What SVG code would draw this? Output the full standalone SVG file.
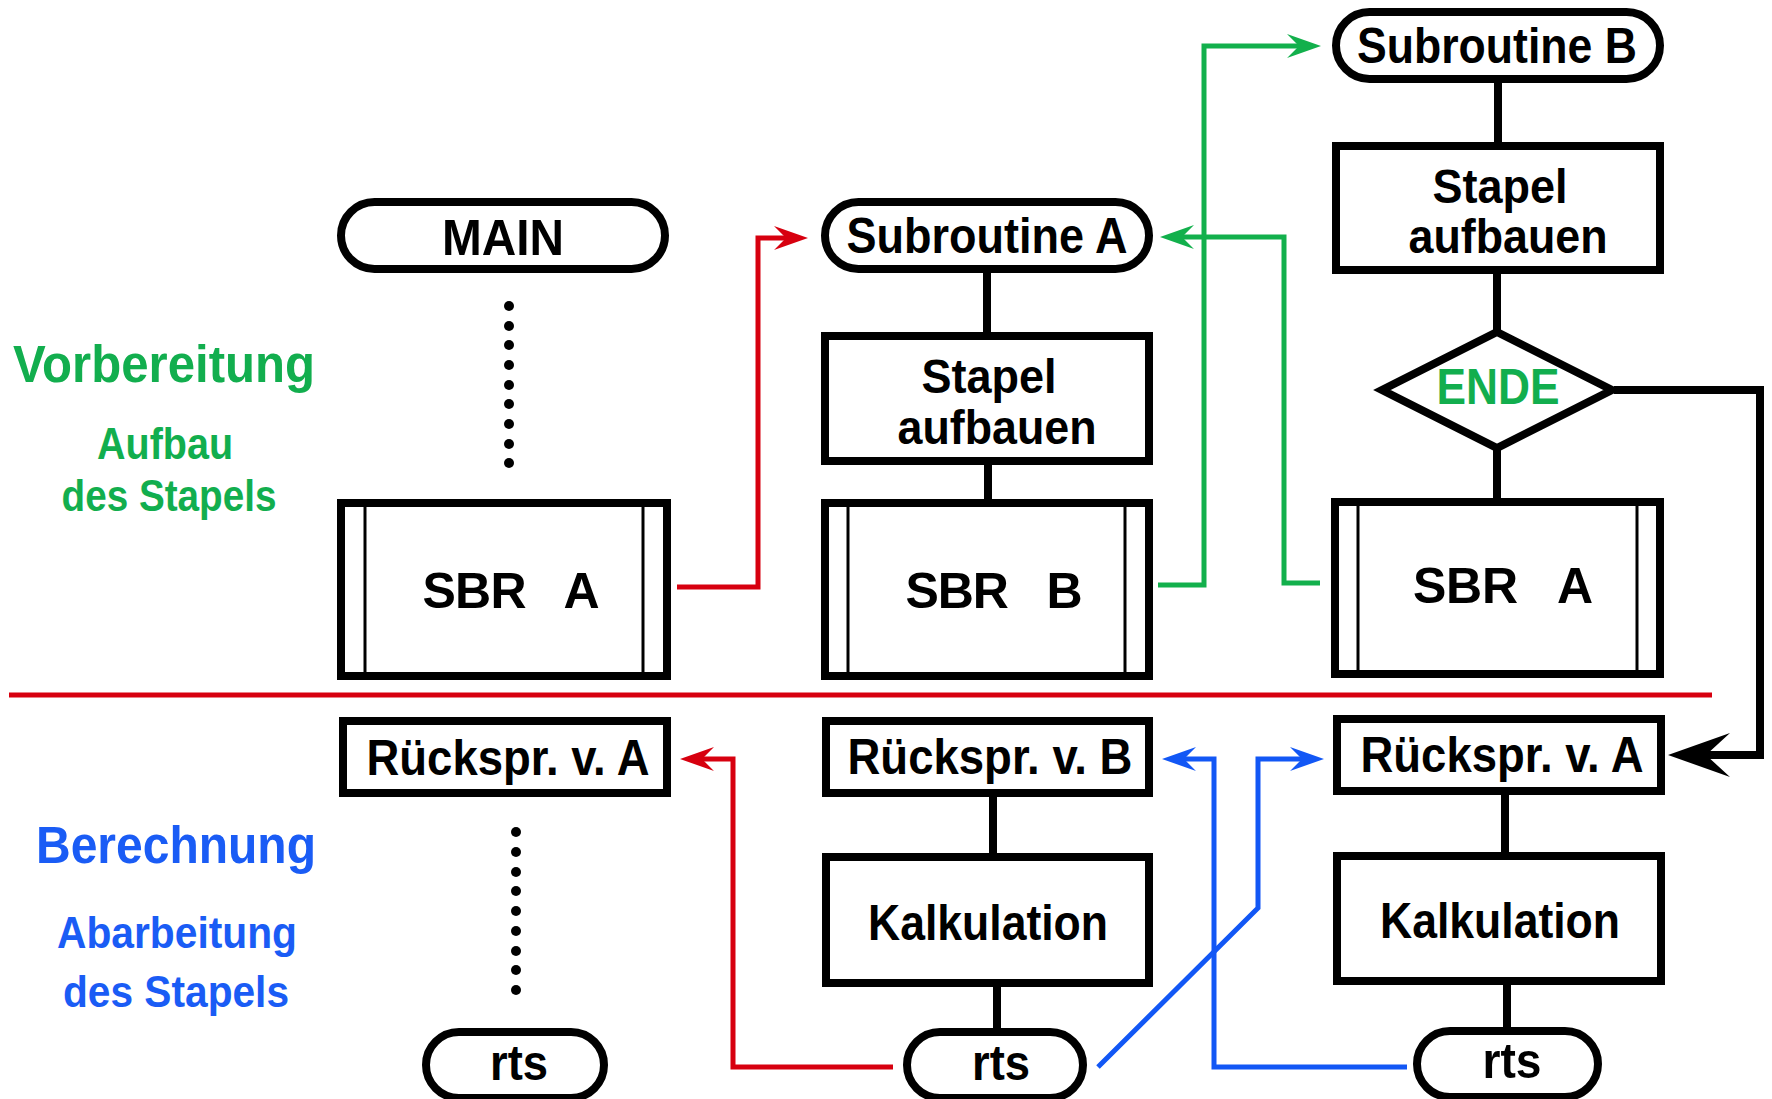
<svg xmlns="http://www.w3.org/2000/svg" width="1772" height="1099" viewBox="0 0 1772 1099">
  <style>
    .box { fill: #ffffff; stroke: #000000; stroke-width: 8; }
    .inner { stroke: #000000; stroke-width: 3; }
    .link { fill: none; stroke: #000000; stroke-width: 8; }
    .lbl { font-family: "Liberation Sans", Arial, sans-serif; font-weight: bold; font-size: 50px; fill: #000000; text-anchor: middle; }
    .two { font-size: 48px; }
    .side { font-family: "Liberation Sans", Arial, sans-serif; font-weight: bold; text-anchor: middle; }
    .green { fill: #12ae4e; }
    .blue { fill: #1a5cf5; }
    .red-line { fill: none; stroke: #d7000f; stroke-width: 5; }
    .green-line { fill: none; stroke: #12b04c; stroke-width: 5; }
    .blue-line { fill: none; stroke: #1257f5; stroke-width: 5; }
    .dot { fill: #000000; }
  </style>
  <defs>
    <marker id="arrow-red" viewBox="-36 -14 38 28" markerWidth="38" markerHeight="28" refX="-22" refY="0" orient="auto" markerUnits="userSpaceOnUse">
      <path d="M0,0 L-34,-12 L-22,0 L-34,12 Z" fill="#d7000f"/>
    </marker>
    <marker id="arrow-green" viewBox="-36 -14 38 28" markerWidth="38" markerHeight="28" refX="-22" refY="0" orient="auto" markerUnits="userSpaceOnUse">
      <path d="M0,0 L-34,-12 L-22,0 L-34,12 Z" fill="#12b04c"/>
    </marker>
    <marker id="arrow-blue" viewBox="-36 -14 38 28" markerWidth="38" markerHeight="28" refX="-22" refY="0" orient="auto" markerUnits="userSpaceOnUse">
      <path d="M0,0 L-34,-12 L-22,0 L-34,12 Z" fill="#1257f5"/>
    </marker>
  </defs>

  <rect width="1772" height="1099" fill="#ffffff"/>

  <!-- phase labels -->
  <g id="label-vorbereitung">
    <text class="side green" x="164" y="382" font-size="51" textLength="302" lengthAdjust="spacingAndGlyphs">Vorbereitung</text>
    <text class="side green" x="165" y="459" font-size="44" textLength="136" lengthAdjust="spacingAndGlyphs">Aufbau</text>
    <text class="side green" x="169" y="511" font-size="44" textLength="215" lengthAdjust="spacingAndGlyphs">des Stapels</text>
  </g>
  <g id="label-berechnung">
    <text class="side blue" x="176" y="863" font-size="51" textLength="280" lengthAdjust="spacingAndGlyphs">Berechnung</text>
    <text class="side blue" x="177" y="948" font-size="44" textLength="240" lengthAdjust="spacingAndGlyphs">Abarbeitung</text>
    <text class="side blue" x="176" y="1007" font-size="44" textLength="226" lengthAdjust="spacingAndGlyphs">des Stapels</text>
  </g>

  <!-- divider between the two phases -->
  <line x1="9" y1="695" x2="1712" y2="695" class="red-line"/>

  <!-- connectors -->
  <g id="connectors">
    <!-- flow lines inside each routine -->
    <line class="link" x1="987" y1="269" x2="987" y2="336"/>
    <line class="link" x1="988" y1="461" x2="988" y2="503"/>
    <line class="link" x1="1498" y1="79" x2="1498" y2="146"/>
    <line class="link" x1="1497" y1="270" x2="1497" y2="332"/>
    <line class="link" x1="1497" y1="448" x2="1497" y2="502"/>
    <line class="link" x1="993" y1="793" x2="993" y2="857"/>
    <line class="link" x1="997" y1="983" x2="997" y2="1032"/>
    <line class="link" x1="1505" y1="791" x2="1505" y2="856"/>
    <line class="link" x1="1507" y1="981" x2="1507" y2="1031"/>

    <!-- dotted continuation in MAIN -->
    <g class="dot">
      <circle cx="509" cy="306" r="5"/><circle cx="509" cy="326" r="5"/><circle cx="509" cy="345" r="5"/>
      <circle cx="509" cy="365" r="5"/><circle cx="509" cy="385" r="5"/><circle cx="509" cy="404" r="5"/>
      <circle cx="509" cy="424" r="5"/><circle cx="509" cy="444" r="5"/><circle cx="509" cy="463" r="5"/>
      <circle cx="516" cy="832" r="5"/><circle cx="516" cy="852" r="5"/><circle cx="516" cy="872" r="5"/>
      <circle cx="516" cy="891" r="5"/><circle cx="516" cy="911" r="5"/><circle cx="516" cy="931" r="5"/>
      <circle cx="516" cy="951" r="5"/><circle cx="516" cy="970" r="5"/><circle cx="516" cy="990" r="5"/>
    </g>

    <!-- calls -->
    <path class="red-line" d="M677,587 H758 V238 H786" marker-end="url(#arrow-red)"/>
    <path class="green-line" d="M1158,585 H1204 V46 H1299" marker-end="url(#arrow-green)"/>
    <path class="green-line" d="M1320,583 H1284 V237 H1182" marker-end="url(#arrow-green)"/>

    <!-- ENDE exit -->
    <path class="link" d="M1614,390 H1760 V755 H1704"/>
    <path d="M1668,755 L1730,733 L1706,755 L1730,777 Z" fill="#000000"/>

    <!-- returns -->
    <path class="red-line" d="M893,1067 H733 V759 H702" marker-end="url(#arrow-red)"/>
    <path class="blue-line" d="M1407,1067 H1214 V759 H1184" marker-end="url(#arrow-blue)"/>
    <path class="blue-line" d="M1098,1067 L1258,908 V759 H1302" marker-end="url(#arrow-blue)"/>
  </g>

  <!-- MAIN -->
  <g id="main">
    <rect class="box" x="341" y="202" width="324" height="67" rx="33.5"/>
    <text class="lbl" x="503" y="255" textLength="122" lengthAdjust="spacingAndGlyphs">MAIN</text>
  </g>
  <g id="main-sbr-a">
    <rect class="box" x="341" y="503" width="326" height="173"/>
    <line class="inner" x1="365" y1="507" x2="365" y2="672"/>
    <line class="inner" x1="643" y1="507" x2="643" y2="672"/>
    <text class="lbl" x="511" y="608" xml:space="preserve" textLength="177" lengthAdjust="spacing">SBR   A</text>
  </g>
  <g id="main-return-a">
    <rect class="box" x="343" y="721" width="324" height="72"/>
    <text class="lbl" x="508" y="775" textLength="283" lengthAdjust="spacingAndGlyphs">Rückspr. v. A</text>
  </g>
  <g id="main-rts">
    <rect class="box" x="426" y="1032" width="178" height="66" rx="33"/>
    <text class="lbl" x="519" y="1080" textLength="58" lengthAdjust="spacingAndGlyphs">rts</text>
  </g>

  <!-- Subroutine A -->
  <g id="sub-a">
    <rect class="box" x="825" y="202" width="324" height="67" rx="33.5"/>
    <text class="lbl" x="987" y="253" textLength="281" lengthAdjust="spacingAndGlyphs">Subroutine A</text>
  </g>
  <g id="sub-a-stack">
    <rect class="box" x="825" y="336" width="324" height="125"/>
    <text class="lbl two" x="989" y="393" textLength="135" lengthAdjust="spacingAndGlyphs">Stapel</text>
    <text class="lbl two" x="997" y="444" textLength="199" lengthAdjust="spacingAndGlyphs">aufbauen</text>
  </g>
  <g id="sub-a-sbr-b">
    <rect class="box" x="825" y="503" width="324" height="173"/>
    <line class="inner" x1="848" y1="507" x2="848" y2="672"/>
    <line class="inner" x1="1125" y1="507" x2="1125" y2="672"/>
    <text class="lbl" x="994" y="608" xml:space="preserve" textLength="177" lengthAdjust="spacing">SBR   B</text>
  </g>
  <g id="sub-a-return-b">
    <rect class="box" x="826" y="721" width="323" height="72"/>
    <text class="lbl" x="990" y="774" textLength="285" lengthAdjust="spacingAndGlyphs">Rückspr. v. B</text>
  </g>
  <g id="sub-a-calc">
    <rect class="box" x="826" y="857" width="323" height="126"/>
    <text class="lbl" x="988" y="940" textLength="240" lengthAdjust="spacingAndGlyphs">Kalkulation</text>
  </g>
  <g id="sub-a-rts">
    <rect class="box" x="907" y="1032" width="176" height="66" rx="33"/>
    <text class="lbl" x="1001" y="1080" textLength="58" lengthAdjust="spacingAndGlyphs">rts</text>
  </g>

  <!-- Subroutine B -->
  <g id="sub-b">
    <rect class="box" x="1336" y="12" width="324" height="67" rx="33.5"/>
    <text class="lbl" x="1497" y="63" textLength="280" lengthAdjust="spacingAndGlyphs">Subroutine B</text>
  </g>
  <g id="sub-b-stack">
    <rect class="box" x="1336" y="146" width="324" height="124"/>
    <text class="lbl two" x="1500" y="203" textLength="135" lengthAdjust="spacingAndGlyphs">Stapel</text>
    <text class="lbl two" x="1508" y="253" textLength="199" lengthAdjust="spacingAndGlyphs">aufbauen</text>
  </g>
  <g id="sub-b-ende">
    <polygon class="box" points="1497,332 1612,390 1497,448 1382,390"/>
    <text class="lbl green" x="1498" y="404" font-size="44" textLength="123" lengthAdjust="spacingAndGlyphs">ENDE</text>
  </g>
  <g id="sub-b-sbr-a">
    <rect class="box" x="1335" y="502" width="325" height="172"/>
    <line class="inner" x1="1358" y1="506" x2="1358" y2="670"/>
    <line class="inner" x1="1637" y1="506" x2="1637" y2="670"/>
    <text class="lbl" x="1503" y="603" xml:space="preserve" textLength="180" lengthAdjust="spacing">SBR   A</text>
  </g>
  <g id="sub-b-return-a">
    <rect class="box" x="1337" y="719" width="324" height="72"/>
    <text class="lbl" x="1502" y="772" textLength="283" lengthAdjust="spacingAndGlyphs">Rückspr. v. A</text>
  </g>
  <g id="sub-b-calc">
    <rect class="box" x="1337" y="856" width="324" height="125"/>
    <text class="lbl" x="1500" y="938" textLength="240" lengthAdjust="spacingAndGlyphs">Kalkulation</text>
  </g>
  <g id="sub-b-rts">
    <rect class="box" x="1417" y="1031" width="181" height="66" rx="33"/>
    <text class="lbl" x="1512" y="1078" textLength="59" lengthAdjust="spacingAndGlyphs">rts</text>
  </g>
</svg>
